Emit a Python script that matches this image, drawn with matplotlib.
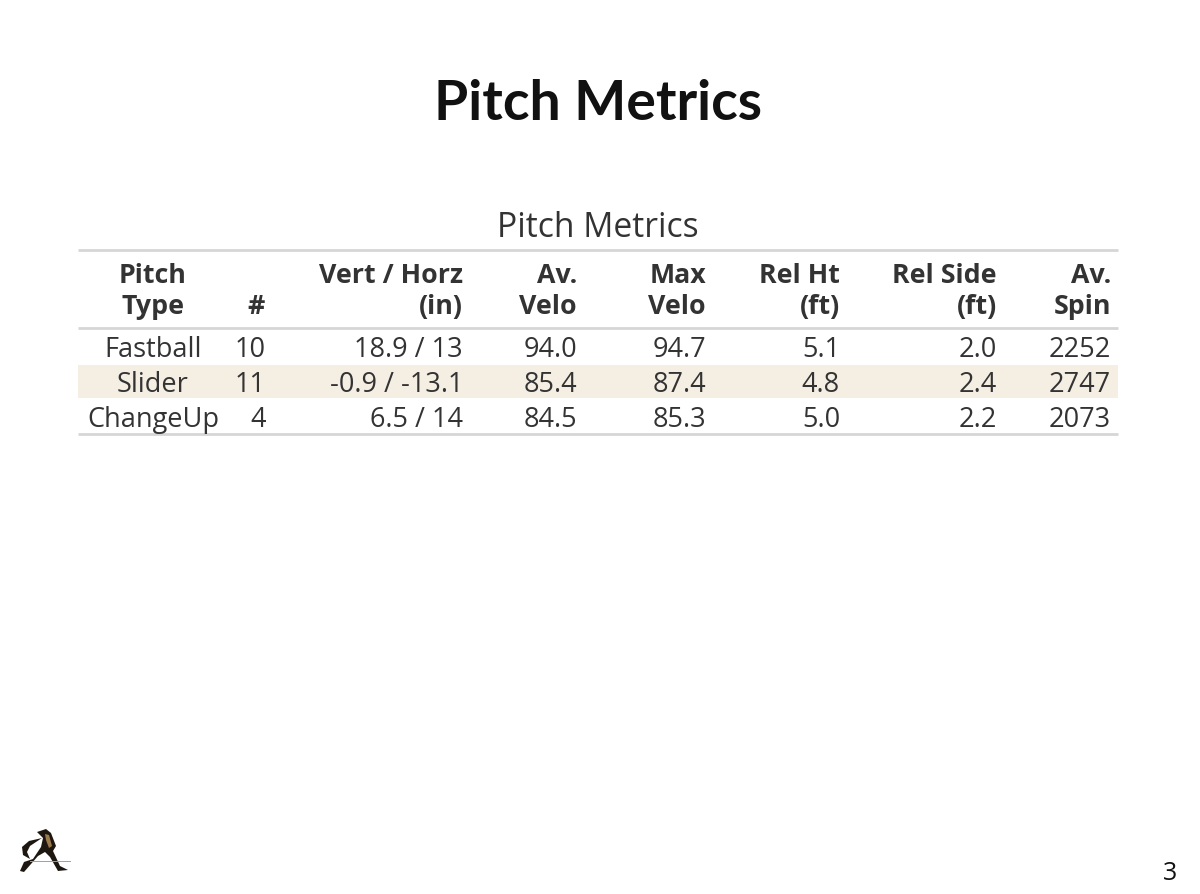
import matplotlib
matplotlib.use("Agg")
import matplotlib.pyplot as plt
from matplotlib.patches import Polygon, Rectangle

slide_title = "Pitch Metrics"
table_title = "Pitch Metrics"
page_number = "3"
headers = ["Pitch\nType", "#", "Vert / Horz\n(in)", "Av.\nVelo", "Max\nVelo", "Rel Ht\n(ft)", "Rel Side\n(ft)", "Av.\nSpin"]
pitch_types = ["Fastball", "Slider", "ChangeUp"]
counts = ["10", "11", "4"]
vert_horz = ["18.9 / 13", "-0.9 / -13.1", "6.5 / 14"]
av_velo = ["94.0", "85.4", "84.5"]
max_velo = ["94.7", "87.4", "85.3"]
rel_ht = ["5.1", "4.8", "5.0"]
rel_side = ["2.0", "2.4", "2.2"]
av_spin = ["2252", "2747", "2073"]

columns = [pitch_types, counts, vert_horz, av_velo, max_velo, rel_ht, rel_side, av_spin]
col_x = [153, 265, 463, 577, 706, 840, 997, 1111]
body_x = [153, 266, 463, 577, 706, 840, 997, 1111]
col_ha = ["center"] + ["right"] * 7
row_y = [350, 385, 420]
text_c = "#333333"
rule_c = "#d6d6d6"

fig = plt.figure(figsize=(12, 8.94), dpi=100, facecolor="white")
ax = fig.add_axes([0, 0, 1, 1])
ax.set_xlim(0, 1200)
ax.set_ylim(894, 0)
ax.axis("off")

ax.text(598, 104, slide_title, family="Lato", weight="bold", fontsize=39.8,
        ha="center", va="center", color="#111111")
ax.text(598, 228, table_title, family="Open Sans", fontsize=24.2,
        ha="center", va="center", color=text_c)

ax.add_patch(Rectangle((78, 365), 1040, 33, facecolor="#f5eee3", edgecolor="none"))
for y in (250, 328, 434):
    ax.plot([78, 1118], [y, y], color=rule_c, lw=2.0, solid_capstyle="butt")

for x, ha, head in zip(col_x, col_ha, headers):
    parts = head.split("\n")
    ys = [307] if len(parts) == 1 else [276, 307]
    for y, part in zip(ys, parts):
        ax.text(x, y, part, family="Open Sans", weight="bold", fontsize=19.3,
                ha=ha, va="center", color=text_c)

for x, ha, col in zip(body_x, col_ha, columns):
    for y, val in zip(row_y, col):
        ax.text(x, y, val, family="Open Sans", fontsize=19.5,
                ha=ha, va="center", color=text_c)

ax.text(1170, 873, page_number, family="Open Sans", fontsize=18,
        ha="center", va="center", color="#111111")

# small decorative logo
logo_dark = [
    [(37, 832), (46, 829), (51, 833), (56, 846), (53, 851), (60, 866), (68, 870),
     (58, 871), (50, 857), (45, 852), (38, 856), (24, 872), (20, 871), (24, 862),
     (33, 859), (41, 847), (43, 838)],
    [(42, 838), (29, 841), (22, 847), (23, 855), (30, 859), (27, 852), (30, 846)],
]
for pts in logo_dark:
    ax.add_patch(Polygon(pts, closed=True, facecolor="#1d1710", edgecolor="none"))
ax.add_patch(Polygon([(45, 834), (49, 835), (52, 846), (49, 848), (46, 840)],
                     closed=True, facecolor="#9c7a4c", edgecolor="none"))
ax.plot([30, 70], [861, 861], color="#a0a0a0", lw=0.7)

fig.savefig("out.png", dpi=100, facecolor="white")
